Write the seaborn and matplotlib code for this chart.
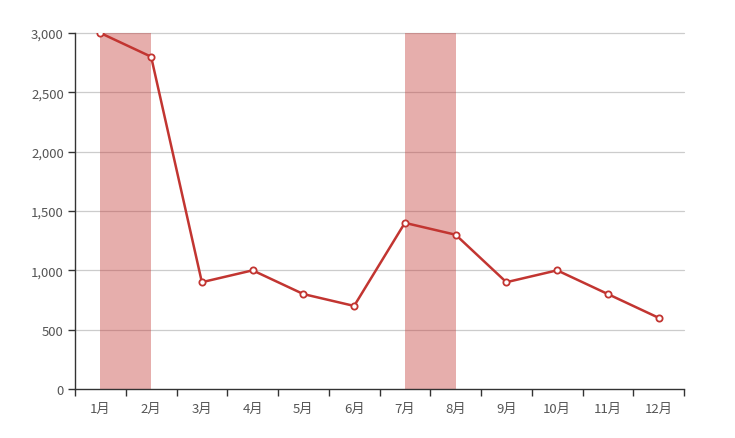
import matplotlib
matplotlib.use("Agg")
import matplotlib.pyplot as plt
from matplotlib.ticker import FixedLocator, FuncFormatter
import seaborn as sns
import pandas as pd

# datos
months = ["1月", "2月", "3月", "4月", "5月", "6月", "7月", "8月", "9月", "10月", "11月", "12月"]
values = [3000, 2800, 900, 1000, 800, 700, 1400, 1300, 900, 1000, 800, 600]
mark_areas = [("1月", "2月"), ("7月", "8月")]
yticks = [0, 500, 1000, 1500, 2000, 2500, 3000]

sns.set_style("white")
plt.rcParams['font.family'] = ['Noto Sans CJK SC', 'DejaVu Sans']

df = pd.DataFrame({"month": months, "value": values})
df["pos"] = range(len(months))

fig = plt.figure(figsize=(7.35, 4.39), dpi=100)
ax = fig.add_axes([75/735, 1-390/439, (684-75)/735, (390-34)/439])

# grid
for t in yticks[1:]:
    ax.axhline(t, color="#cccccc", lw=0.9, zorder=0, clip_on=False)

# areas marcadas
for a, b in mark_areas:
    ax.axvspan(months.index(a), months.index(b), color="#c23531", alpha=0.4, lw=0, zorder=1)

sns.lineplot(data=df, x="pos", y="value", ax=ax, color="#c23531", lw=1.8,
             marker="o", markersize=4.5, markerfacecolor="white",
             markeredgecolor="#c23531", markeredgewidth=1.3, zorder=3)

ax.set_xlim(-0.5, len(months) - 0.5)
ax.set_ylim(0, 3000)
ax.set_xlabel("")
ax.set_ylabel("")

# ticks eje x: marcas en los bordes, etiquetas en el centro
ax.xaxis.set_major_locator(FixedLocator([i - 0.5 for i in range(len(months) + 1)]))
ax.xaxis.set_major_formatter(FuncFormatter(lambda v, p: ""))
ax.xaxis.set_minor_locator(FixedLocator(list(range(len(months)))))
ax.xaxis.set_minor_formatter(FuncFormatter(lambda v, p: months[int(round(v))]))
ax.tick_params(axis="x", which="major", length=5, width=1, color="#333333", direction="out", bottom=True)
ax.tick_params(axis="x", which="minor", length=0, pad=9, labelsize=9.5, labelcolor="#555555")

ax.set_yticks(yticks)
ax.yaxis.set_major_formatter(FuncFormatter(lambda v, p: f"{int(v):,}"))
ax.tick_params(axis="y", length=5, width=1, color="#333333", direction="out", left=True, pad=3,
               labelsize=9.5, labelcolor="#555555")

for s in ["top", "right"]:
    ax.spines[s].set_visible(False)
for s in ["left", "bottom"]:
    ax.spines[s].set_color("#333333")
    ax.spines[s].set_linewidth(1)

fig.savefig("out.png", dpi=100)
